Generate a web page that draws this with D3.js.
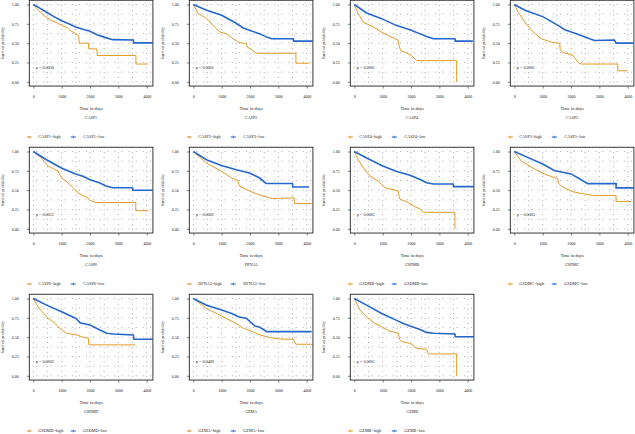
<!DOCTYPE html>
<html><head><meta charset="utf-8">
<script src="https://cdn.jsdelivr.net/npm/d3@7"></script>
<style>
html,body{margin:0;padding:0;background:#fff;}
svg{display:block;}
text{font-family:"Liberation Serif","DejaVu Serif",serif;}
</style></head>
<body>
<svg id="chart" width="635" height="434"></svg>
<script>
const genes = ["CASP1","CASP3","CASP4","CASP5","CASP6","DFNA5","GSDMB","GSDMC","GSDMD","GZMA","GZMB"];
const pValues = ["p = 0.0030","p < 0.0001","p < 0.0001","p < 0.0001","p = 0.0012","p = 0.0002","p < 0.0001","p = 0.0003","p = 0.0002","p = 0.0409","p < 0.0001"];
const xTicks = [0,1000,2000,3000,4000];
const yTicks = [0,0.25,0.5,0.75,1];
const yTickLabels = ["0.00","0.25","0.50","0.75","1.00"];

const casp1High = [[0,1],[100,0.96],[250,0.90],[400,0.85],[600,0.80],[850,0.76],[1000,0.73],[1200,0.70],[1300,0.665],[1550,0.61],[1600,0.60],[1620,0.50],[1940,0.50],[1960,0.426],[2235,0.426],[2260,0.34],[3620,0.34],[3620,0.23],[4035,0.23]];
const casp1Low = [[0,1],[200,0.96],[470,0.90],[700,0.85],[1000,0.79],[1250,0.75],[1500,0.71],[1750,0.68],[2000,0.655],[2250,0.61],[2500,0.578],[2800,0.545],[3530,0.54],[3540,0.504],[4210,0.504]];
const casp3High = [[0,1],[175,0.88],[470,0.82],[700,0.73],[940,0.643],[1180,0.62],[1350,0.57],[1590,0.513],[1880,0.49],[1900,0.45],[2000,0.43],[2235,0.37],[3620,0.37],[3620,0.24],[4090,0.24]];
const casp3Low = [[0,1],[470,0.926],[1000,0.86],[1500,0.76],[1760,0.696],[2000,0.665],[2350,0.62],[2590,0.578],[2760,0.556],[3530,0.556],[3540,0.526],[4210,0.526]];
const casp4High = [[0,1],[140,0.88],[320,0.77],[670,0.71],[965,0.643],[1200,0.60],[1550,0.535],[1570,0.48],[1635,0.404],[1850,0.37],[2020,0.34],[2200,0.274],[3610,0.274],[3610,0]];
const casp4Low = [[0,1],[435,0.89],[965,0.817],[1470,0.73],[1965,0.674],[2320,0.62],[2550,0.587],[2790,0.557],[3550,0.557],[3560,0.526],[4180,0.526]];
const casp5High = [[0,1],[140,0.90],[375,0.77],[665,0.643],[960,0.557],[1310,0.513],[1600,0.50],[1620,0.42],[1685,0.383],[2070,0.34],[2245,0.252],[2360,0.23],[3650,0.23],[3650,0.143],[4000,0.143]];
const casp5Low = [[0,1],[375,0.926],[1020,0.84],[1545,0.73],[1780,0.674],[2010,0.643],[2360,0.60],[2655,0.557],[2830,0.535],[3530,0.54],[3590,0.50],[4200,0.50]];
const casp6High = [[0,1],[290,0.915],[525,0.81],[875,0.745],[990,0.66],[1225,0.596],[1340,0.553],[1575,0.468],[1750,0.426],[1925,0.404],[1980,0.37],[2215,0.34],[3615,0.34],[3615,0.234],[4060,0.234]];
const casp6Low = [[0,1],[465,0.894],[990,0.787],[1490,0.71],[1750,0.68],[1980,0.638],[2330,0.596],[2565,0.553],[2800,0.532],[3500,0.532],[3510,0.498],[4210,0.498]];
const dfna5High = [[0,1],[465,0.85],[990,0.745],[1340,0.66],[1575,0.626],[1600,0.58],[1630,0.553],[1925,0.498],[2215,0.455],[2450,0.426],[2800,0.391],[3555,0.40],[3570,0.328],[4175,0.328]];
const dfna5Low = [[0,1],[465,0.894],[990,0.82],[1490,0.766],[1980,0.723],[2330,0.66],[2565,0.587],[3500,0.587],[3510,0.54],[4080,0.54]];
const gsdmbHigh = [[0,1],[140,0.894],[320,0.787],[555,0.68],[850,0.617],[1080,0.532],[1320,0.51],[1550,0.49],[1580,0.42],[1610,0.383],[1905,0.34],[2140,0.285],[2320,0.255],[2435,0.213],[3550,0.213],[3550,0]];
const gsdmbLow = [[0,1],[435,0.915],[965,0.82],[1470,0.745],[1965,0.694],[2320,0.638],[2550,0.596],[2790,0.58],[3490,0.58],[3500,0.545],[4210,0.545]];
const gsdmcHigh = [[0,1],[235,0.88],[705,0.775],[1120,0.70],[1530,0.648],[1560,0.59],[1650,0.555],[1825,0.52],[2060,0.48],[2350,0.458],[2825,0.43],[3590,0.43],[3590,0.352],[4120,0.352]];
const gsdmcLow = [[0,1],[470,0.924],[1000,0.839],[1410,0.754],[2000,0.71],[2295,0.648],[2590,0.585],[3590,0.585],[3590,0.53],[4200,0.53]];
const gsdmdHigh = [[0,1],[175,0.89],[470,0.76],[765,0.678],[1000,0.592],[1175,0.55],[1530,0.528],[1705,0.506],[1940,0.485],[1960,0.40],[3590,0.40]];
const gsdmdLow = [[0,1],[470,0.914],[1000,0.828],[1505,0.742],[1650,0.687],[2000,0.657],[2350,0.592],[2590,0.55],[2825,0.54],[3530,0.528],[3550,0.472],[4210,0.472]];
const gzmaHigh = [[0,1],[470,0.871],[1000,0.773],[1505,0.678],[1765,0.614],[2000,0.584],[2350,0.528],[2705,0.494],[3060,0.476],[3530,0.472],[3620,0.408],[4210,0.408]];
const gzmaLow = [[0,1],[470,0.914],[1000,0.85],[1355,0.807],[1590,0.764],[1880,0.742],[2000,0.70],[2175,0.644],[2350,0.627],[2590,0.571],[4175,0.571]];
const gzmbHigh = [[0,1],[200,0.85],[435,0.764],[730,0.678],[965,0.635],[1200,0.584],[1550,0.55],[1600,0.47],[1670,0.442],[1965,0.42],[2200,0.356],[2550,0.343],[2610,0.283],[3610,0.283],[3610,0]];
const gzmbLow = [[0,1],[435,0.914],[965,0.807],[1470,0.72],[1730,0.678],[1965,0.644],[2320,0.60],[2550,0.562],[2790,0.55],[3550,0.54],[3560,0.506],[4210,0.506]];

const highCurves = [casp1High,casp3High,casp4High,casp5High,casp6High,dfna5High,gsdmbHigh,gsdmcHigh,gsdmdHigh,gzmaHigh,gzmbHigh];
const lowCurves = [casp1Low,casp3Low,casp4Low,casp5Low,casp6Low,dfna5Low,gsdmbLow,gsdmcLow,gsdmdLow,gzmaLow,gzmbLow];

const colHigh = "#E39B26", colLow = "#2567CC";
const colOff = [0,160,321,481];
const rowOff = [0,147,294];
const svg = d3.select("#chart");

genes.forEach((g,i)=>{
  const cx = colOff[i%4], cy = rowOff[Math.floor(i/4)];
  const x = d3.scaleLinear().domain([0,4000]).range([cx+33.3, cx+146.7]);
  const y = d3.scaleLinear().domain([0,1]).range([cy+81.8, cy+4.5]);
  const L = x(-141), R = x(4219), T = y(1.055), B = y(-0.055);
  const gp = svg.append("g");
  // dotted grid
  d3.range(0,4001,500).forEach(t=>{
    gp.append("line").attr("x1",x(t)).attr("x2",x(t)).attr("y1",T).attr("y2",B)
      .attr("stroke","#555").attr("stroke-width",0.7).attr("stroke-dasharray","0.7 4.1");
  });
  d3.range(0,1.0001,0.125).forEach(v=>{
    gp.append("line").attr("x1",L).attr("x2",R).attr("y1",y(v)).attr("y2",y(v))
      .attr("stroke","#555").attr("stroke-width",0.7).attr("stroke-dasharray","0.7 6.4");
  });
  // curves
  const line = d3.line().x(d=>x(d[0])).y(d=>y(d[1]));
  gp.append("path").datum(highCurves[i]).attr("d",line).attr("fill","none")
    .attr("stroke",colHigh).attr("stroke-width",1.0);
  gp.append("path").datum(lowCurves[i]).attr("d",line).attr("fill","none")
    .attr("stroke",colLow).attr("stroke-width",1.6);
  // box
  gp.append("rect").attr("x",L).attr("y",T).attr("width",R-L).attr("height",B-T)
    .attr("fill","none").attr("stroke","#222").attr("stroke-width",0.9);
  // axes
  const ax = gp.append("g").attr("transform",`translate(0,${B})`)
    .call(d3.axisBottom(x).tickValues(xTicks).tickSize(2.5).tickPadding(7).tickFormat(d3.format("d")));
  const ay = gp.append("g").attr("transform",`translate(${L},0)`)
    .call(d3.axisLeft(y).tickValues(yTicks).tickSize(2.5).tickPadding(8).tickFormat((d,k)=>yTickLabels[k]));
  [ax,ay].forEach(a=>{
    a.select(".domain").remove();
    a.selectAll("line").attr("stroke","#333").attr("stroke-width",0.6);
    a.selectAll("text").attr("font-size",4).attr("fill","#222").style("font-family","Liberation Serif");
  });
  // p value
  gp.append("text").attr("x",x(90)).attr("y",y(0.19)).attr("dy","0.35em")
    .attr("font-size",4.2).attr("fill","#222").text(pValues[i]);
  // axis titles
  const mx = (L+R)/2;
  gp.append("text").attr("x",mx).attr("y",cy+109.5).attr("text-anchor","middle")
    .attr("font-size",4.5).attr("fill","#222").text("Time to days");
  gp.append("text").attr("x",mx).attr("y",cy+118.5).attr("text-anchor","middle")
    .attr("font-size",4).attr("fill","#222").text(g);
  gp.append("text").attr("transform",`translate(${cx+4},${(T+B)/2}) rotate(-90)`)
    .attr("text-anchor","middle").attr("font-size",4).attr("fill","#222").text("Survival probability");
  // legend
  const ly = cy+137;
  const x0 = x(0);
  const items = [[colHigh, g+"=high", x0-4, x0+5],[colLow, g+"=low", x0+40, x0+50]];
  items.forEach(([c,t,mxp,tx])=>{
    gp.append("line").attr("x1",mxp-2.5).attr("x2",mxp+2.5).attr("y1",ly).attr("y2",ly)
      .attr("stroke",c).attr("stroke-width",1);
    gp.append("line").attr("x1",mxp).attr("x2",mxp).attr("y1",ly-1.3).attr("y2",ly+1.3)
      .attr("stroke",c).attr("stroke-width",0.8);
    gp.append("text").attr("x",tx).attr("y",ly).attr("dy","0.35em")
      .attr("font-size",4.2).attr("fill","#222").text(t);
  });
});
</script>
</body></html>
